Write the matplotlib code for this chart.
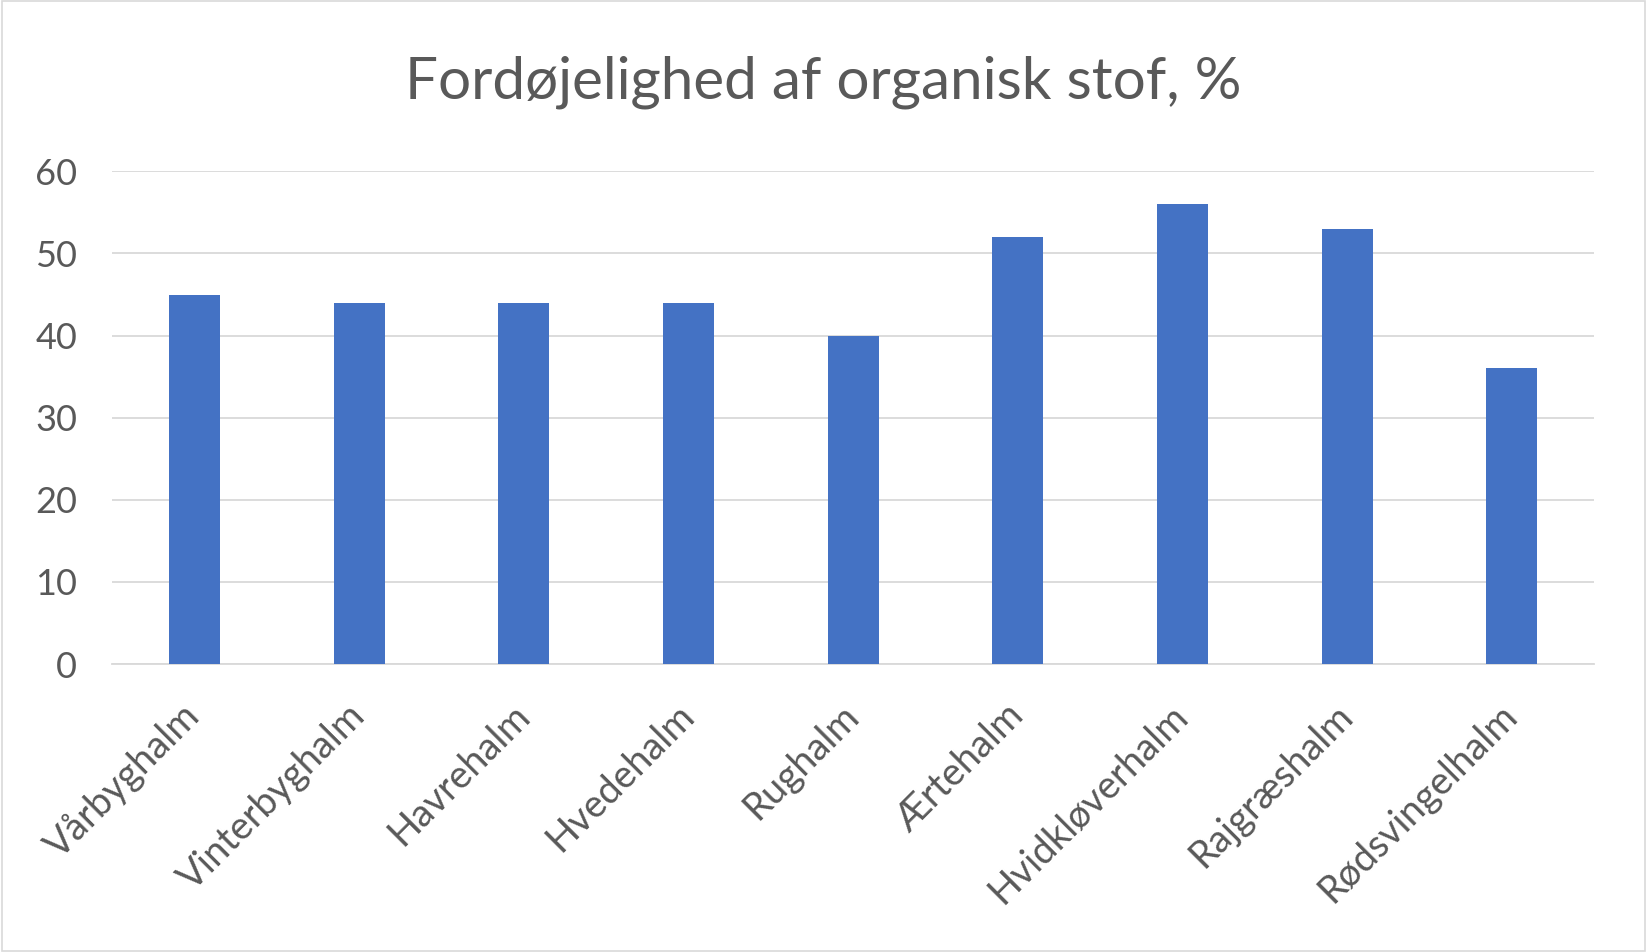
import matplotlib.pyplot as plt
from matplotlib.patches import Rectangle

plt.rcParams['font.family'] = ['Lato', 'DejaVu Sans']

categories = ["Vårbyghalm", "Vinterbyghalm", "Havrehalm", "Hvedehalm", "Rughalm",
              "Ærtehalm", "Hvidkløverhalm", "Rajgræshalm", "Rødsvingelhalm"]
values = [45, 44, 44, 44, 40, 52, 56, 53, 36]
yticks = [0, 10, 20, 30, 40, 50, 60]

fig = plt.figure(figsize=(16.47, 9.52), dpi=100)
ax = fig.add_axes([0.068, 0.3025, 0.9, 0.5175])

x = range(len(categories))
ax.bar(x, values, width=0.31, color="#4472C4", zorder=3)
ax.set_xlim(-0.5, len(categories) - 0.5)
ax.set_ylim(0, 60)
ax.set_yticks(yticks)
ax.yaxis.grid(True, color="#D9D9D9", linewidth=1.3, zorder=0)
for s in ["top", "right", "left"]:
    ax.spines[s].set_visible(False)
ax.spines["bottom"].set_color("#D9D9D9")
ax.spines["bottom"].set_linewidth(1.3)
ax.tick_params(axis="both", length=0, labelsize=26, colors="#595959")
ax.tick_params(axis="y", pad=25)
ax.set_xticks(list(x))
ax.set_xticklabels(categories, rotation=45, ha="right", va="center",
                   rotation_mode="anchor", fontsize=27.5)
ax.tick_params(axis="x", pad=33)

fig.text(0.5, 0.914, "Fordøjelighed af organisk stof, %", ha="center", va="center",
         fontsize=42, color="#595959")
fig.patches.append(Rectangle((0.001, 0.001), 0.998, 0.998, transform=fig.transFigure,
                             fill=False, edgecolor="#D9D9D9", linewidth=1.2))

plt.savefig("out.png")
